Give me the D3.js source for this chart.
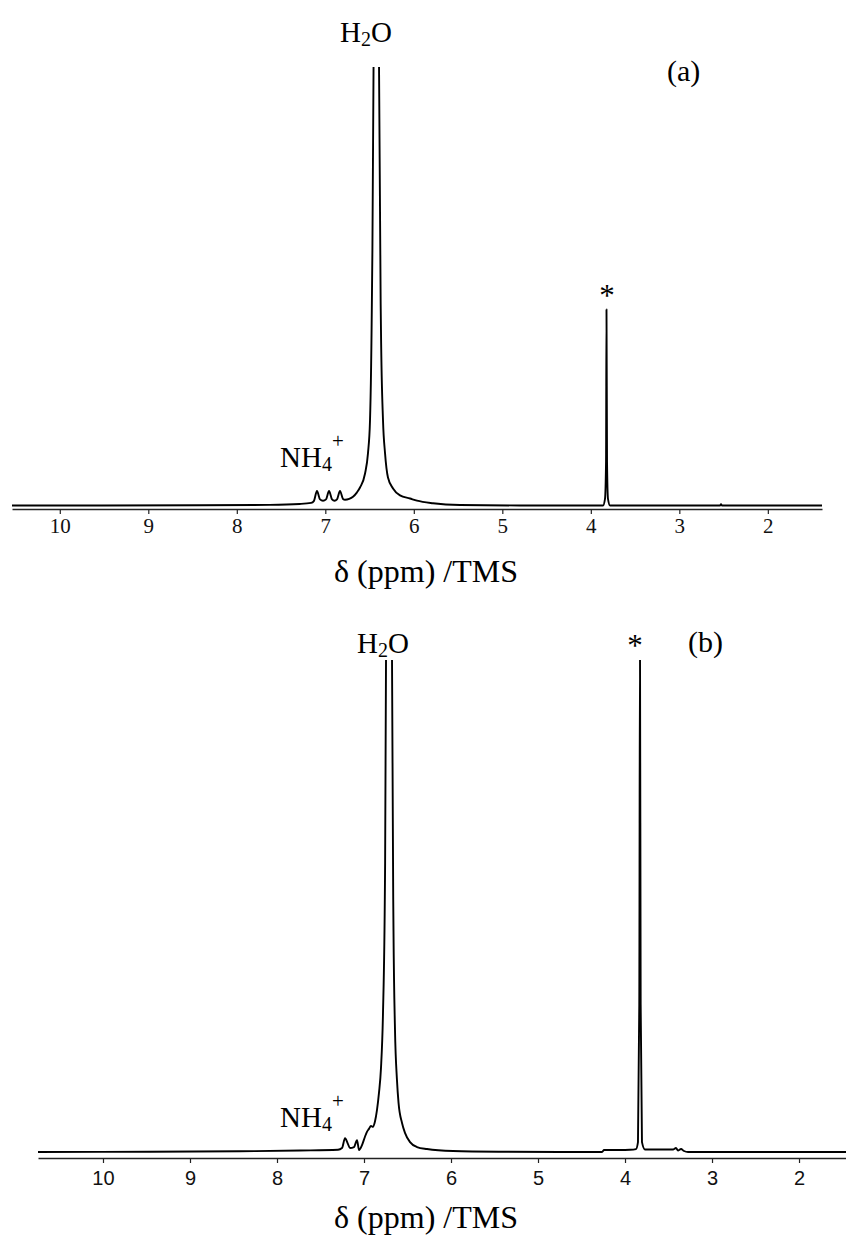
<!DOCTYPE html>
<html>
<head>
<meta charset="utf-8">
<script src="https://cdn.jsdelivr.net/npm/d3@7"></script>
<style>
  html, body { margin: 0; padding: 0; background: #fff; }
  svg { display: block; }
</style>
</head>
<body>
<svg id="chart" width="846" height="1237"></svg>
<script>
// ---------------- DATA ----------------
const tickValues = [10, 9, 8, 7, 6, 5, 4, 3, 2];
const axisTitle = "δ (ppm) /TMS";

// Panel (a) spectrum: chemical shift (ppm) and intensity (0-100 = visible height)
const ppmA = [10.54, 8.42, 7.63, 7.29, 7.16, 7.13, 7.094, 7.06, 7.026, 6.992, 6.958, 6.924, 6.896, 6.868, 6.834, 6.800, 6.777, 6.73, 6.687, 6.642, 6.608, 6.551, 6.518, 6.495, 6.472, 6.455, 6.427, 6.393, 6.371, 6.348, 6.325, 6.292, 6.235, 6.156, 6.043, 5.964, 5.783, 5.478, 4.80, 3.862, 3.840, 3.828, 3.823, 3.817, 3.806, 3.783, 2.54, 2.529, 2.518, 1.388];
const intA = [0, 0.05, 0.15, 0.35, 0.6, 1.0, 3.3, 1.4, 1.1, 1.4, 3.3, 1.4, 1.1, 1.4, 3.3, 1.5, 1.3, 1.5, 2.0, 3.0, 4.1, 7.3, 11.9, 19.4, 50, 100, 800, 100, 40, 19.4, 11.9, 6.4, 3.9, 2.3, 1.6, 1.1, 0.5, 0.1, 0, 0, 1.5, 10, 44.7, 10, 1.5, 0, 0, 0.3, 0, 0];

// Panel (b) spectrum
const ppmB = [10.747, 9.46, 8.43, 7.736, 7.299, 7.253, 7.218, 7.184, 7.161, 7.115, 7.080, 7.057, 7.023, 6.989, 6.966, 6.943, 6.920, 6.897, 6.874, 6.851, 6.828, 6.805, 6.782, 6.759, 6.747, 6.713, 6.678, 6.661, 6.644, 6.621, 6.603, 6.563, 6.529, 6.471, 6.391, 6.276, 5.977, 5.437, 4.747, 4.264, 4.241, 4.057, 3.943, 3.874, 3.851, 3.836, 3.828, 3.820, 3.805, 3.770, 3.598, 3.448, 3.414, 3.391, 3.356, 3.322, 3.276, 1.460];
const intB = [0, 0.05, 0.15, 0.3, 0.45, 0.8, 2.8, 1.6, 0.8, 1.0, 2.4, 0.4, 1.4, 3.1, 4.1, 4.7, 5.3, 5.1, 6.2, 8.5, 12, 17, 28, 55, 100, 800, 100, 45, 25, 14.6, 10, 5.9, 3.9, 2.0, 1.0, 0.6, 0.2, 0.05, 0, 0, 0.4, 0.4, 0.45, 0.6, 2, 30, 105, 30, 2, 0.5, 0.5, 0.5, 0.8, 0.3, 0.6, 0.2, 0, 0];

// ---------------- DRAW ----------------
const svg = d3.select("#chart");
const serif = "'Liberation Serif', 'Times New Roman', Times, serif";
const sans = "'Liberation Sans', Arial, Helvetica, sans-serif";

function panel(cfg) {
  const x = d3.scaleLinear().domain(cfg.xDomain).range(cfg.xRange);
  const y = d3.scaleLinear().domain([0, 100]).range([cfg.base, cfg.top]);
  const g = svg.append("g");

  const clipId = "clip-" + cfg.id;
  svg.append("clipPath").attr("id", clipId)
    .append("rect")
    .attr("x", cfg.xRange[0]).attr("y", cfg.top)
    .attr("width", cfg.xRange[1] - cfg.xRange[0])
    .attr("height", cfg.base - cfg.top + 20);

  // axis
  const axis = d3.axisBottom(x).tickValues(tickValues).tickSize(5).tickSizeOuter(0).tickFormat(d3.format("d"));
  const ag = g.append("g").attr("transform", `translate(0,${cfg.axisY})`).call(axis);
  ag.attr("font-family", null).attr("font-size", null);
  ag.select(".domain").attr("stroke", "#222").attr("stroke-width", 1.6);
  ag.selectAll(".tick line").attr("stroke", "#222").attr("stroke-width", 1.2);
  ag.selectAll(".tick text")
    .attr("y", cfg.labelDy).attr("dy", null)
    .attr("fill", "#111")
    .attr("font-family", cfg.tickFont)
    .attr("font-size", cfg.tickSize);

  // spectrum
  const pts = cfg.ppm.map((p, i) => [p, cfg.inten[i]]);
  const line = d3.line().x(d => x(d[0])).y(d => y(d[1])).curve(d3.curveMonotoneX);
  g.append("path")
    .datum(pts)
    .attr("clip-path", `url(#${clipId})`)
    .attr("d", line)
    .attr("fill", "none")
    .attr("stroke", "#000")
    .attr("stroke-width", 1.9)
    .attr("stroke-linejoin", "round");

  // labels
  const t = g.append("g").attr("font-family", serif).attr("fill", "#000");
  const h2o = t.append("text").attr("x", cfg.h2o[0]).attr("y", cfg.h2o[1]).attr("font-size", 29);
  h2o.append("tspan").text("H");
  h2o.append("tspan").attr("dy", 4).attr("font-size", 20).text("2");
  h2o.append("tspan").attr("dy", -4).text("O");

  const nh = t.append("text").attr("x", cfg.nh4[0]).attr("y", cfg.nh4[1]).attr("font-size", 29);
  nh.append("tspan").text("NH");
  nh.append("tspan").attr("dy", 4).attr("font-size", 20).text("4");
  nh.append("tspan").attr("dy", -23).attr("font-size", 21).text("+");

  t.append("text").attr("x", cfg.star[0]).attr("y", cfg.star[1])
    .attr("text-anchor", "middle").attr("font-size", 31).text("*");
  t.append("text").attr("x", cfg.tag[0]).attr("y", cfg.tag[1])
    .attr("font-size", 30).text(cfg.tagText);
  t.append("text").attr("x", 426).attr("y", cfg.titleY)
    .attr("text-anchor", "middle").attr("font-size", 32).text(axisTitle);
}

panel({
  id: "a",
  xDomain: [10.54, 1.388], xRange: [12, 822],
  base: 505.5, top: 67, axisY: 509, labelDy: 24,
  tickFont: serif, tickSize: 21,
  ppm: ppmA, inten: intA,
  h2o: [340, 42], nh4: [280, 467], star: [607, 306], tag: [667, 81], tagText: "(a)",
  titleY: 582
});

panel({
  id: "b",
  xDomain: [10.747, 1.46], xRange: [38, 846],
  base: 1152, top: 660, axisY: 1158, labelDy: 27,
  tickFont: sans, tickSize: 20,
  ppm: ppmB, inten: intB,
  h2o: [357, 653], nh4: [280, 1127], star: [635, 656], tag: [688, 652], tagText: "(b)",
  titleY: 1228
});
</script>
</body>
</html>
